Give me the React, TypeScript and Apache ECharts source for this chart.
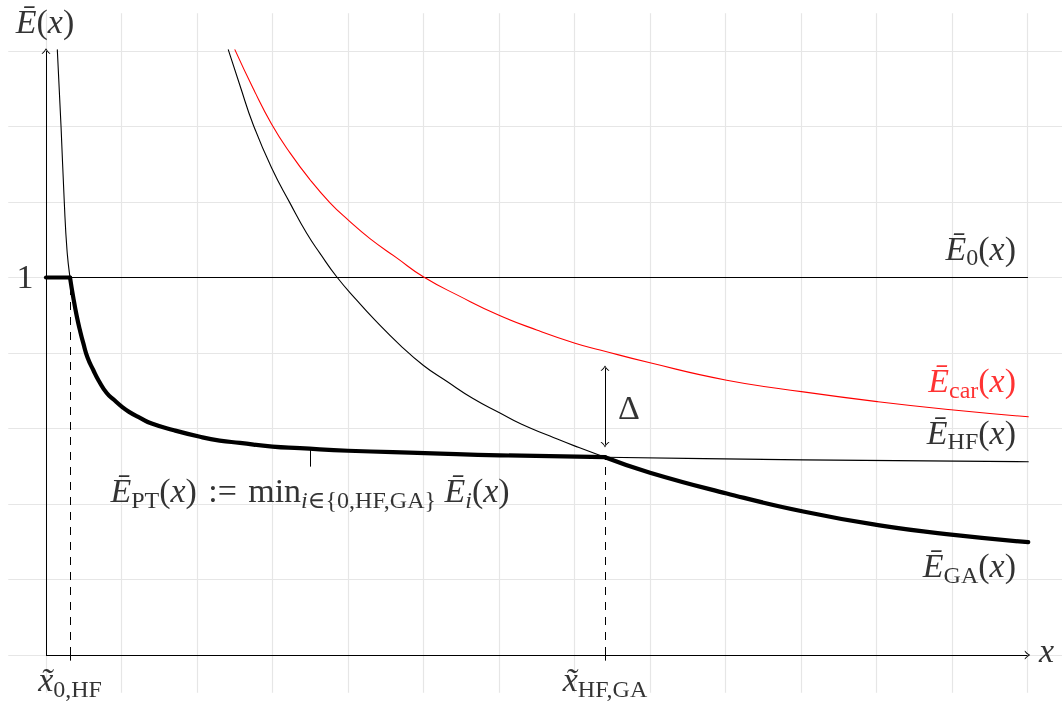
import { useEffect, useRef } from "react";
import * as echarts from "echarts";

// help-line grid positions (x in plot units, y in Ē units)
const GRID_X = [0, 1, 2, 3, 4, 5, 6, 7, 8, 9, 10, 11, 12, 13];
const GRID_Y = [0, 0.2, 0.4, 0.6, 0.8, 1.0, 1.2, 1.4, 1.6];

// special abscissae
const X_0_HF = 0.318;
const X_HF_GA = 7.404;
const E_HF_GA = 0.524;

// curves
const E0_X = [0, 13.0];
const E0_Y = [1, 1];

const HF_X = [0.15, 0.199, 0.242, 0.278, 0.318, 0.362, 0.407, 0.45, 0.494, 0.55, 0.626, 0.7, 0.804, 0.9, 1.003, 1.1, 1.245, 1.4, 1.682, 2.04, 2.3, 2.57, 3.0, 3.364, 4.0, 5.02, 6.013, 7.404, 10.03, 13.01];
const HF_Y = [1.603, 1.401, 1.2, 1.073, 1.0, 0.946, 0.898, 0.86, 0.826, 0.788, 0.755, 0.726, 0.694, 0.676, 0.658, 0.644, 0.628, 0.613, 0.596, 0.578, 0.568, 0.562, 0.552, 0.548, 0.541, 0.535, 0.529, 0.524, 0.517, 0.512];

const GA_X = [2.415, 2.57, 2.746, 2.989, 3.232, 3.453, 3.629, 3.85, 4.115, 4.358, 4.689, 5.0, 5.307, 5.65, 6.013, 6.3, 6.675, 7.0, 7.404, 8.0, 9.016, 10.03, 11.02, 12.02, 13.01];
const GA_Y = [1.603, 1.508, 1.404, 1.29, 1.197, 1.117, 1.064, 1.002, 0.94, 0.887, 0.821, 0.767, 0.725, 0.68, 0.641, 0.611, 0.58, 0.554, 0.524, 0.483, 0.428, 0.38, 0.344, 0.318, 0.299];

const CAR_X = [2.503, 2.746, 2.989, 3.232, 3.497, 3.762, 4.004, 4.291, 4.645, 4.997, 5.483, 6.0, 6.499, 7.007, 7.338, 8.0, 9.016, 10.03, 11.02, 12.02, 13.01];
const CAR_Y = [1.603, 1.5, 1.406, 1.33, 1.259, 1.198, 1.152, 1.103, 1.052, 1.002, 0.95, 0.9, 0.861, 0.826, 0.808, 0.774, 0.728, 0.697, 0.671, 0.649, 0.631];

// pin and Δ marker ends
const PIN_X = 3.497;
const PIN_Y = [0.543, 0.499];
const DELTA_Y = [0.557, 0.76];

// label texts (rich-text) and anchors
const LABEL_TEXT = [
  "{m|Ē}{r|(}{m|x}{r|)}",
  "{r|1}",
  "{m|x}",
  "{m|x\u0303}{s|0,HF}",
  "{m|x\u0303}{s|HF,GA}",
  "{m|Ē}{s|0}{r|(}{m|x}{r|)}",
  "{m|Ē}{s|car}{r|(}{m|x}{r|)}",
  "{m|Ē}{s|HF}{r|(}{m|x}{r|)}",
  "{m|Ē}{s|GA}{r|(}{m|x}{r|)}",
  "{r|Δ}",
  "{m|Ē}{s|PT}{r|(}{m|x}{r|)\u2004:=\u2004min}{si|i}{s|∈{0,HF,GA}}{m| Ē}{si|i}{r|(}{m|x}{r|)}",
];
const LABEL_X = [-0.013, -0.166, 13.252, X_0_HF, X_HF_GA, 12.848, 12.848, 12.848, 12.848, 7.722, PIN_X];
const LABEL_Y = [1.653, 0.979, -0.013, -0.089, -0.089, 1.053, 0.703, 0.566, 0.213, 0.633, 0.411];
const LABEL_ALIGN = ["center", "right", "center", "center", "center", "right", "right", "right", "right", "center", "center"];
const LABEL_COLOR = ["#000", "#000", "#000", "#000", "#000", "#000", "#ff0000", "#000", "#000", "#000", "#000"];

const SERIF = "'Liberation Serif', 'DejaVu Serif', serif";
const MAIN = 34;
const SUB = 24;
const PAD = 18;
const ARROW = "path://M0,6 Q3.2,3.4 5,0 Q6.8,3.4 10,6 L8.7,6 Q6.3,4.2 5,1.7 Q3.7,4.2 1.3,6 Z";

const pairs = (xs: number[], ys: number[]) => xs.map((x, i) => [x, ys[i]]);

function richFor(color: string) {
  return {
    m: { fontFamily: SERIF, fontStyle: "italic", fontSize: MAIN, color, padding: [0, 0, PAD, 0] },
    r: { fontFamily: SERIF, fontSize: MAIN, color, padding: [0, 0, PAD, 0] },
    s: { fontFamily: SERIF, fontSize: SUB, color },
    si: { fontFamily: SERIF, fontStyle: "italic", fontSize: SUB, color },
  };
}

function curve(data: number[][], color: string, width: number, z: number) {
  return {
    type: "line",
    data,
    showSymbol: false,
    symbol: "none",
    smooth: 0.5,
    silent: true,
    z,
    lineStyle: { color, width, cap: "round", join: "round" },
  };
}

function marks(z: number, lineStyle: any, data: any[], symbol: any = ["none", "none"]) {
  return {
    type: "line",
    data: [],
    z,
    silent: true,
    markLine: {
      silent: true,
      z,
      animation: false,
      symbol,
      symbolSize: 9,
      symbolKeepAspect: true,
      label: { show: false },
      emphasis: { disabled: true },
      lineStyle,
      data,
    },
  };
}

export default function App() {
  const ref = useRef<HTMLDivElement>(null);
  useEffect(() => {
    if (!ref.current) return;
    const chart = echarts.init(ref.current, undefined, { renderer: "svg" });

    const hf = pairs(HF_X, HF_Y);
    const ga = pairs(GA_X, GA_Y);
    const pt0 = [[0, 1], [X_0_HF, 1]];
    const ptHF = hf.filter((p) => p[0] >= X_0_HF && p[0] <= X_HF_GA);
    const ptGA = ga.filter((p) => p[0] >= X_HF_GA);

    const option: any = {
      animation: false,
      grid: { left: 8.25, top: 13.25, width: 1057, height: 679.5, containLabel: false, outerBoundsMode: "none" },
      xAxis: { type: "value", min: -0.5, max: 13.5, show: false },
      yAxis: { type: "value", min: -0.1, max: 1.7, show: false },
      series: [
        marks(1, { color: "#e6e6e6", width: 1.2, type: "solid" }, [
          ...GRID_X.map((v) => ({ xAxis: v })),
          ...GRID_Y.map((v) => ({ yAxis: v })),
        ]),
        marks(
          5,
          { color: "#000", width: 1, type: "solid" },
          [
            [{ coord: [0, 0] }, { coord: [13.0, 0] }],
            [{ coord: [0, 0] }, { coord: [0, 1.6] }],
          ],
          ["none", ARROW]
        ),
        marks(3, { color: "#000", width: 1, type: [8, 7] }, [
          [{ coord: [X_0_HF, 0] }, { coord: [X_0_HF, 1] }],
          [{ coord: [X_HF_GA, 0] }, { coord: [X_HF_GA, E_HF_GA] }],
        ]),
        marks(3, { color: "#000", width: 1, type: "solid" }, [
          [{ coord: [X_0_HF, 0.014] }, { coord: [X_0_HF, -0.015] }],
          [{ coord: [X_HF_GA, 0.014] }, { coord: [X_HF_GA, -0.015] }],
          [{ coord: [PIN_X, PIN_Y[0]] }, { coord: [PIN_X, PIN_Y[1]] }],
        ]),
        marks(
          5,
          { color: "#000", width: 1, type: "solid" },
          [[{ coord: [X_HF_GA, DELTA_Y[0]] }, { coord: [X_HF_GA, DELTA_Y[1]] }]],
          [ARROW, ARROW]
        ),
        curve(pairs(E0_X, E0_Y), "#000", 1.1, 3),
        curve(hf, "#000", 1.1, 3),
        curve(ga, "#000", 1.1, 3),
        curve(pairs(CAR_X, CAR_Y), "#ff0000", 1.1, 3),
        curve(pt0, "#000", 4.2, 4),
        curve(ptHF, "#000", 4.2, 4),
        curve(ptGA, "#000", 4.2, 4),
        {
          type: "scatter",
          z: 10,
          silent: true,
          symbolSize: 1,
          itemStyle: { color: "rgba(0,0,0,0)" },
          data: LABEL_TEXT.map((t, i) => ({
            value: [LABEL_X[i], LABEL_Y[i]],
            label: {
              show: true,
              position: "inside",
              align: LABEL_ALIGN[i],
              verticalAlign: "middle",
              formatter: () => t,
              color: LABEL_COLOR[i],
              fontFamily: SERIF,
              fontSize: SUB,
              rich: richFor(LABEL_COLOR[i]),
            },
          })),
        },
      ],
    };
    chart.setOption(option);
    return () => chart.dispose();
  }, []);
  return <div ref={ref} style={{ position: "fixed", left: 0, top: 0, width: 1062, height: 704 }} />;
}
